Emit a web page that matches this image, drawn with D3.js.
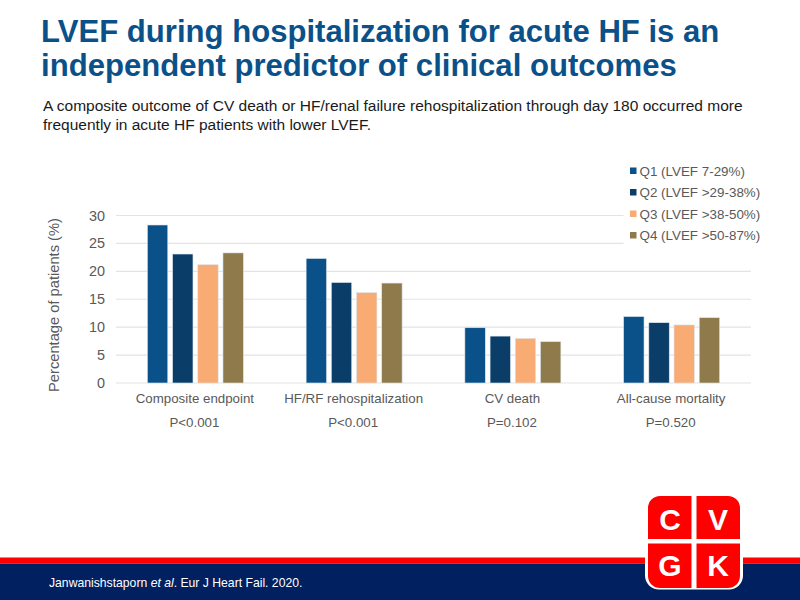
<!DOCTYPE html>
<html><head><meta charset="utf-8">
<script src="https://cdnjs.cloudflare.com/ajax/libs/d3/7.8.5/d3.min.js"></script>
<style>html,body{margin:0;padding:0;background:#fff}svg{display:block}text{font-family:"Liberation Sans",Arial,sans-serif}</style>
</head><body><svg id="c" width="800" height="600"></svg>
<script>
const titleLines = ["LVEF during hospitalization for acute HF is an","independent predictor of clinical outcomes"];
const subtitleLines = ["A composite outcome of CV death or HF/renal failure rehospitalization through day 180 occurred more","frequently in acute HF patients with lower LVEF."];
const categories = ["Composite endpoint","HF/RF rehospitalization","CV death","All-cause mortality"];
const pValues = ["P<0.001","P<0.001","P=0.102","P=0.520"];
const seriesNames = ["Q1 (LVEF 7-29%)","Q2 (LVEF >29-38%)","Q3 (LVEF >38-50%)","Q4 (LVEF >50-87%)"];
const seriesColors = ["#0B5189","#0A3D68","#F9AB74","#8F7A4B"];
const q1 = [28.3,22.3,9.9,11.9];
const q2 = [23.1,18.0,8.4,10.8];
const q3 = [21.2,16.2,8.0,10.4];
const q4 = [23.3,17.9,7.4,11.7];
const yTicks = [0,5,10,15,20,25,30];
const seriesValues = [q1,q2,q3,q4];
const citeStart = "Janwanishstaporn ", citeItalic = "et al", citeEnd = ". Eur J Heart Fail. 2020.";
const logoLetters = [["C","V"],["G","K"]];

const svg = d3.select("#c");
const x = d3.scaleBand().domain(categories).range([116,751]);
const sx = d3.scaleBand().domain(d3.range(4)).range([-48,48]).paddingInner(0.19).paddingOuter(0);
const y = d3.scaleLinear().domain([0,30]).range([383,215.5]);

svg.selectAll(".t").data(titleLines).join("text").attr("x",41).attr("y",(d,i)=>41.5+i*34)
  .attr("font-size",31.1).attr("font-weight",700).attr("fill","#0B5189").text(d=>d);
svg.selectAll(".s").data(subtitleLines).join("text").attr("x",43).attr("y",(d,i)=>110.5+i*19)
  .attr("font-size",15.5).attr("fill","#1a1a1a").text(d=>d);

// gridlines
svg.append("g").selectAll("line").data(yTicks).join("line")
  .attr("x1",116).attr("x2",751).attr("y1",d=>y(d)).attr("y2",d=>y(d))
  .attr("stroke","#E3E3E3").attr("stroke-width",1.2);
// y labels
svg.append("g").selectAll("text").data(yTicks).join("text")
  .attr("x",105).attr("y",d=>y(d)+5).attr("text-anchor","end")
  .attr("font-size",14.4).attr("fill","#595959").text(d=>d);
svg.append("text").attr("transform","translate(58.5,305) rotate(-90)").attr("text-anchor","middle")
  .attr("font-size",14.7).attr("fill","#595959").text("Percentage of patients (%)");

// bars
const groups = svg.append("g").selectAll("g").data(categories).join("g")
  .attr("transform",d=>`translate(${x(d)+x.bandwidth()/2},0)`);
groups.selectAll("rect").data((d,ci)=>seriesValues.map((s,si)=>({si,v:s[ci]}))).join("rect")
  .attr("x",d=>sx(d.si)).attr("width",sx.bandwidth())
  .attr("y",d=>y(d.v)).attr("height",d=>y(0)-y(d.v))
  .attr("fill",d=>seriesColors[d.si]).attr("stroke","#DCE6EE").attr("stroke-width",0.6);
groups.append("text").attr("x",-0.5).attr("y",403).attr("text-anchor","middle").attr("font-size",13.3).attr("fill","#595959").text(d=>d);
groups.append("text").attr("x",-1).attr("y",426.5).attr("text-anchor","middle").attr("font-size",13.3).attr("fill","#595959").text((d,i)=>pValues[i]);

// legend
svg.append("rect").attr("x",623.5).attr("y",160).attr("width",150).attr("height",85).attr("fill","#fff");
const ly = d3.scalePoint().domain(seriesNames).range([171,235.5]);
const lg = svg.append("g").selectAll("g").data(seriesNames).join("g").attr("transform",d=>`translate(0,${ly(d)})`);
lg.append("rect").attr("x",630).attr("y",-3.5).attr("width",6.5).attr("height",6.5).attr("fill",(d,i)=>seriesColors[i]);
lg.append("text").attr("x",639.5).attr("y",4.5).attr("font-size",13.4).attr("fill","#595959").text(d=>d);

// footer
svg.append("rect").attr("x",0).attr("y",557.5).attr("width",800).attr("height",6).attr("fill","#FF0000");
svg.append("rect").attr("x",0).attr("y",563.5).attr("width",800).attr("height",36.5).attr("fill","#002060");
const cite = svg.append("text").attr("x",49).attr("y",587).attr("font-size",12.2).attr("fill","#fff");
cite.append("tspan").text(citeStart);
cite.append("tspan").attr("font-style","italic").text(citeItalic);
cite.append("tspan").text(citeEnd);

// logo
const logo = svg.append("g");
logo.append("rect").attr("x",645).attr("y",494.5).attr("width",98).attr("height",95).attr("rx",14).attr("fill","#fff");
logo.append("rect").attr("x",648).attr("y",496).attr("width",92).attr("height",92).attr("rx",12).attr("fill","#FF0000");
logo.append("rect").attr("x",691.5).attr("y",495).attr("width",5).attr("height",94).attr("fill","#fff");
logo.append("rect").attr("x",645).attr("y",539).attr("width",98).attr("height",4.5).attr("fill","#fff");
logoLetters.forEach((row,r)=>row.forEach((l,c)=>{
  logo.append("text").attr("x",[670,718][c]).attr("y",[529.5,575.5][r]).attr("text-anchor","middle")
    .attr("font-size",30).attr("font-weight",700).attr("font-family","'DejaVu Sans',sans-serif").attr("fill","#fff").text(l);
}));
</script></body></html>
